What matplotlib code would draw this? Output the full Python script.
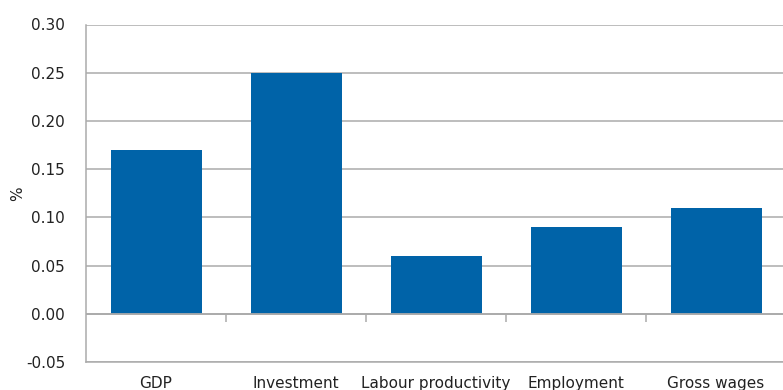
import matplotlib
matplotlib.use("Agg")
import matplotlib.pyplot as plt
import numpy as np

categories = ["GDP", "Investment", "Labour productivity", "Employment", "Gross wages"]
values = [0.17, 0.25, 0.06, 0.09, 0.11]
yticks = [-0.05, 0.00, 0.05, 0.10, 0.15, 0.20, 0.25, 0.30]

plt.rcParams['font.family'] = ['DejaVu Sans']
bar_color = "#0063A8"
grid_color = "#ABABAB"
text_color = "#222222"

fig = plt.figure(figsize=(7.83, 3.90), dpi=100)
ax = fig.add_axes([86/783, 28/390, 700/783, (362-24.5)/390])

x = np.arange(len(categories))
ax.bar(x, values, width=0.65, color=bar_color, zorder=3)

ax.set_xlim(-0.5, len(categories) - 0.5)
ax.set_ylim(yticks[0], yticks[-1])
ax.set_yticks(yticks)
ax.set_yticklabels([f"{v:.2f}" for v in yticks], fontsize=11, color=text_color)
ax.tick_params(axis='y', length=0, pad=15)

ax.set_xticks(x)
ax.set_xticklabels(categories, fontsize=11, color=text_color)
ax.tick_params(axis='x', length=0, pad=10)

ax.grid(axis='y', color=grid_color, linewidth=1.1, zorder=0)
ax.axhline(0, color=grid_color, linewidth=1.3, zorder=4)
bounds = np.arange(len(categories) - 1) + 0.5
ax.vlines(bounds, -0.0085, 0, color=grid_color, linewidth=1.1, zorder=4)

for s in ['top', 'right']:
    ax.spines[s].set_visible(False)
ax.spines['left'].set_color(grid_color)
ax.spines['left'].set_linewidth(1.1)
ax.spines['bottom'].set_color(grid_color)
ax.spines['bottom'].set_linewidth(1.1)

ax.set_ylabel("%", fontsize=11, color=text_color)
ax.yaxis.set_label_coords(-0.087, 0.5)

fig.savefig("out.png", dpi=100)
